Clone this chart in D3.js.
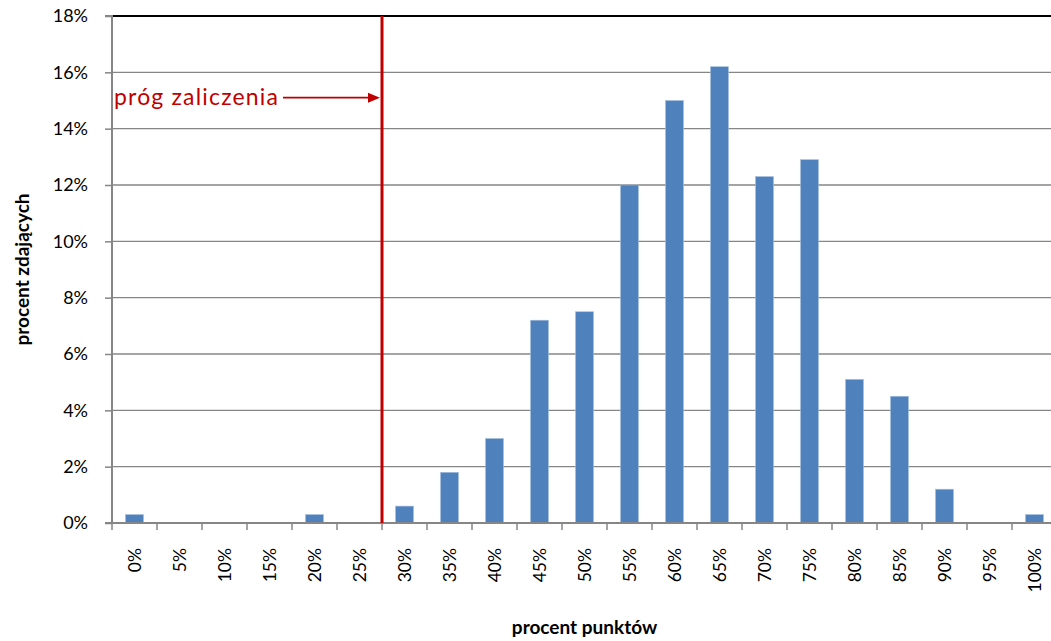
<!DOCTYPE html>
<html><head><meta charset="utf-8">
<script src="https://cdn.jsdelivr.net/npm/d3@7"></script>
<style>
body{margin:0;background:#fff;}
svg{display:block;font-family:Lato,"Open Sans",sans-serif;}
</style></head>
<body><svg id="c" width="1051" height="641"></svg>
<script>
const categories = ["0%","5%","10%","15%","20%","25%","30%","35%","40%","45%","50%","55%","60%","65%","70%","75%","80%","85%","90%","95%","100%"];
const values = [0.3,0,0,0,0.3,0,0.6,1.8,3.0,7.2,7.5,12.0,15.0,16.2,12.3,12.9,5.1,4.5,1.2,0,0.3];
const yTicks = [0,2,4,6,8,10,12,14,16,18];
const thresholdIndex = 6; // boundary between 25% and 30%
const thresholdLabel = "próg zaliczenia";
const xTitle = "procent punktów";
const yTitle = "procent zdających";

const svg = d3.select("#c");
const L = 112, R = 1057, T = 16, B = 523;
const x = d3.scaleBand().domain(categories).range([L,R]).paddingInner(0.6).paddingOuter(0.3);
const xb = d3.scaleLinear().domain([0,categories.length]).range([L,R]);
const y = d3.scaleLinear().domain([0,18]).range([B,T]);

// gridlines
svg.append("g").selectAll("line").data(yTicks.filter(d=>d>0)).join("line")
  .attr("x1",L).attr("x2",R).attr("y1",d=>y(d)).attr("y2",d=>y(d))
  .attr("stroke",d=>d===18?"#000":"#868686").attr("stroke-width",d=>d===18?2:1.3);

// bars
svg.append("g").selectAll("rect").data(values).join("rect")
  .attr("x",(d,i)=>x(categories[i])).attr("width",x.bandwidth())
  .attr("y",d=>y(d)).attr("height",d=>B-y(d))
  .attr("fill","#4f81bd").attr("stroke","#a7c0de").attr("stroke-width",0.6);

// y axis
const yAxis = d3.axisLeft(y).tickValues(yTicks).tickFormat(d=>d+"%").tickSize(7).tickPadding(17);
const gy = svg.append("g").attr("transform",`translate(${L},0)`).call(yAxis);
gy.select(".domain").attr("stroke","#868686").attr("stroke-width",2).attr("d",`M-7,${y(18)}H0V${B}H-7`);
gy.selectAll(".tick line").attr("stroke","#868686").attr("stroke-width",1.5);
gy.selectAll(".tick text").attr("font-size",18).attr("fill","#000").attr("font-family","Lato,'Open Sans',sans-serif");

// x axis baseline & boundary ticks
svg.append("line").attr("x1",L-7).attr("x2",R).attr("y1",B).attr("y2",B).attr("stroke","#868686").attr("stroke-width",2);
svg.append("g").selectAll("line").data(d3.range(categories.length+1)).join("line")
  .attr("x1",d=>xb(d)).attr("x2",d=>xb(d)).attr("y1",B).attr("y2",B+7)
  .attr("stroke","#868686").attr("stroke-width",1.5);
// x labels rotated
svg.append("g").selectAll("text").data(categories).join("text")
  .attr("transform",d=>`translate(${x(d)+x.bandwidth()/2+6.5},${548}) rotate(-90)`)
  .attr("text-anchor","end").attr("font-size",17.5).attr("fill","#000").text(d=>d);

// threshold line
const tx = xb(thresholdIndex);
svg.append("line").attr("x1",tx).attr("x2",tx).attr("y1",T).attr("y2",B)
  .attr("stroke","#c00000").attr("stroke-width",3);
// arrow
const ay = y(15.1);
svg.append("line").attr("x1",283).attr("x2",tx-12).attr("y1",ay).attr("y2",ay).attr("stroke","#c00000").attr("stroke-width",1.8);
svg.append("path").attr("d",`M${tx-2},${ay}L${tx-14},${ay-5}L${tx-14},${ay+5}Z`).attr("fill","#c00000");
svg.append("text").attr("x",114).attr("y",ay+7).attr("font-size",23).attr("fill","#c00000")
  .attr("textLength",164).attr("lengthAdjust","spacing").text(thresholdLabel);

// titles
svg.append("text").attr("x",(L+R)/2).attr("y",634).attr("text-anchor","middle")
  .attr("font-size",19).attr("font-weight","bold").text(xTitle);
svg.append("text").attr("transform",`translate(29,${(T+B)/2}) rotate(-90)`).attr("text-anchor","middle")
  .attr("font-size",19).attr("font-weight","bold").text(yTitle);
</script></body></html>
